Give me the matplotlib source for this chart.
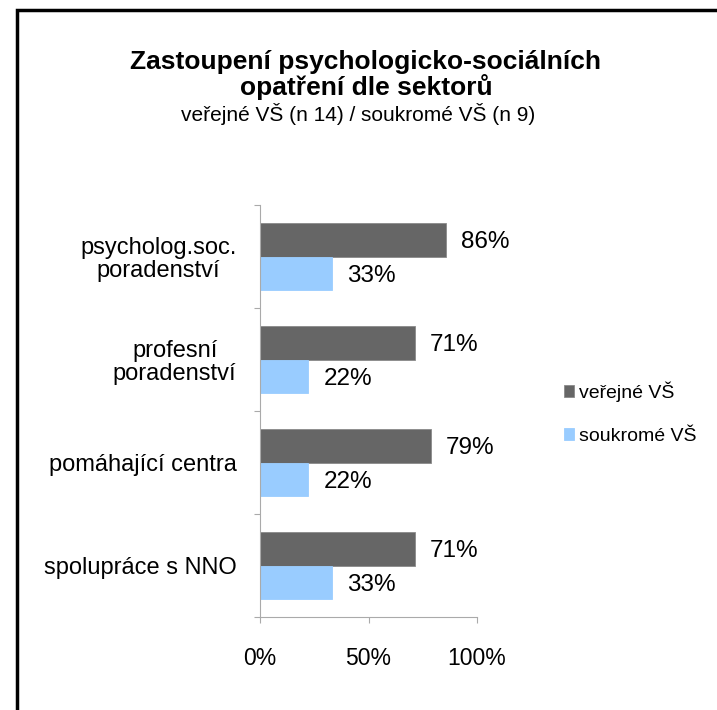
import matplotlib
matplotlib.use("Agg")
import matplotlib.pyplot as plt
from matplotlib.patches import Rectangle
import numpy as np

plt.rcParams['font.family'] = ['Liberation Sans', 'DejaVu Sans']

categories = ["psycholog.soc.\nporadenství", "profesní\nporadenství",
              "pomáhající centra", "spolupráce s NNO"]
verejne = [85.7, 71.4, 78.6, 71.4]
soukrome = [33.3, 22.2, 22.2, 33.3]
series_names = ["veřejné VŠ", "soukromé VŠ"]
xticks = [0, 50, 100]
xticklabels = ["0%", "50%", "100%"]

title = "Zastoupení psychologicko-sociálních\nopatření dle sektorů"
subtitle = "veřejné VŠ (n 14) / soukromé VŠ (n 9)"

fig = plt.figure(figsize=(7.17, 7.10), dpi=100)
W, H = 717, 710

# outer frame
fig.patches.append(Rectangle((17 / W, -0.05), 1.1, (1 - 10 / H) + 0.05,
                             transform=fig.transFigure, fill=False,
                             edgecolor='black', linewidth=2.5, zorder=10))

ax = fig.add_axes([260 / W, 1 - 617 / H, (477 - 260) / W, (617 - 205) / H])

n = len(categories)
ypos = np.arange(n)[::-1]
h = 0.33
dark = '#666666'
light = '#99CCFF'
b1 = ax.barh(ypos + h / 2, verejne, height=h, color=dark, edgecolor='#8a8a8a',
             linewidth=0.6, label=series_names[0])
b2 = ax.barh(ypos - h / 2, soukrome, height=h, color=light, edgecolor=light,
             linewidth=0.6, label=series_names[1])

for y, v in zip(ypos + h / 2, verejne):
    ax.annotate(f"{v:.0f}%", (v, y), xytext=(11, -1.5), textcoords='offset points',
                va='center', ha='left', fontsize=17.5)
for y, v in zip(ypos - h / 2, soukrome):
    ax.annotate(f"{v:.0f}%", (v, y), xytext=(11, -1.5), textcoords='offset points',
                va='center', ha='left', fontsize=17.5)

ax.set_xlim(0, 100)
ax.set_ylim(-0.5, n - 0.5)
ax.set_xticks(xticks)
ax.set_xticklabels(xticklabels, fontsize=16.5)
ax.set_yticks(ypos)
ax.set_yticklabels(categories, fontsize=17, multialignment='center',
                   linespacing=1.05)
ax.set_yticks(np.arange(-0.5, n, 1.0), minor=True)
ax.tick_params(axis='y', which='major', length=0, pad=17)
ax.tick_params(axis='y', which='minor', length=4.5, color='#aaaaaa', width=0.8)
ax.tick_params(axis='x', length=4.5, color='#aaaaaa', width=0.8, pad=17)

for s in ['top', 'right']:
    ax.spines[s].set_visible(False)
for s in ['left', 'bottom']:
    ax.spines[s].set_color('#aaaaaa')
    ax.spines[s].set_linewidth(0.8)

fig.text(366 / W, 1 - 75 / H, title, ha='center', va='center',
         fontsize=19, fontweight='bold', linespacing=1.0)
fig.text(358 / W, 1 - 114 / H, subtitle, ha='center', va='center', fontsize=15)

fig.legend(handles=[b1, b2], labels=series_names, loc='center left',
           bbox_to_anchor=(556 / W, 1 - 413 / H), frameon=False, fontsize=14,
           handlelength=0.55, handleheight=0.55, handletextpad=0.25,
           labelspacing=1.35, borderaxespad=0)

fig.savefig("out.png", dpi=100)
